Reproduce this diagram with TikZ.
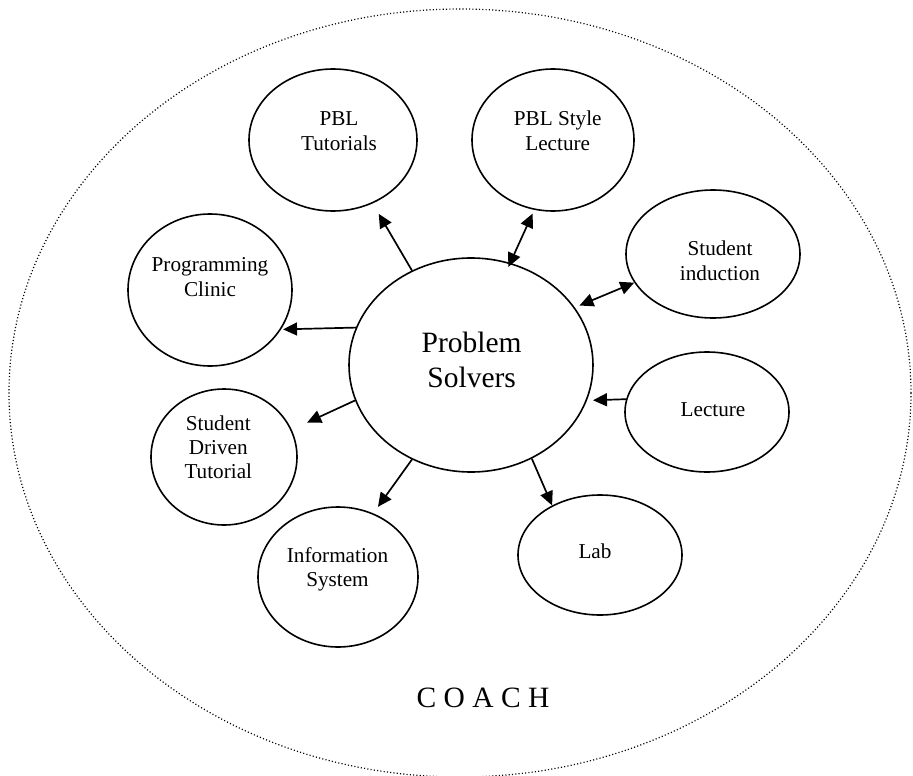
\documentclass[tikz,border=0pt]{standalone}
\usepackage{fontspec}
\setmainfont{Liberation Serif}
\usetikzlibrary{arrows.meta,shapes.geometric}
\begin{document}
\begin{tikzpicture}[x=1pt,y=-1pt,
  bubble/.style={ellipse, draw, line width=1.6pt, inner sep=0pt},
  txt/.style={align=center, font=\fontsize{21.2}{24.3}\selectfont, inner sep=0pt},
  bigtxt/.style={align=center, font=\fontsize{29.5}{34.7}\selectfont, inner sep=0pt},
  tip/.tip={Triangle[length=14pt,width=13pt]},
  link/.style={line width=1.7pt, -tip},
  dlink/.style={line width=1.7pt, tip-tip},
  halo/.style={ellipse, draw=black, line width=1.2pt, dash pattern=on 1.1pt off 2.2pt, inner sep=0pt}]
\useasboundingbox (0,0) rectangle (913,776);

% outer coaching boundary
\node[halo, minimum width=902pt, minimum height=768pt] (coach) at (460,393) {};
\node[bigtxt, anchor=base] (coach-t) at (483,707.3) {C O A C H};

% centre
\node[bubble, minimum width=244pt, minimum height=214pt] (ps) at (471,365) {};
\node[bigtxt] (ps-t) at (471.7,363) {\strut Problem\\\strut Solvers};

% surrounding activities
\node[bubble, minimum width=168pt, minimum height=142pt] (pbt) at (333,140) {};
\node[txt] (pbt-t) at (339,133.1) {\strut PBL\\\strut Tutorials};

\node[bubble, minimum width=162pt, minimum height=142pt] (pbs) at (553,140) {};
\node[txt] (pbs-t) at (557.7,133.1) {\strut PBL Style\\\strut Lecture};

\node[bubble, minimum width=174pt, minimum height=128pt] (sin) at (713,254) {};
\node[txt] (sin-t) at (720,263.1) {\strut Student\\\strut induction};

\node[bubble, minimum width=164pt, minimum height=152pt] (pc) at (210,290) {};
\node[txt] (pc-t) at (210,279) {\strut Programming\\\strut Clinic};

\node[bubble, minimum width=164pt, minimum height=120pt] (lec) at (707,412) {};
\node[txt, anchor=base] (lec-t) at (713,416.7) {Lecture};

\node[bubble, minimum width=146pt, minimum height=136pt] (sdt) at (224,457) {};
\node[txt] (sdt-t) at (218.3,449.6) {\strut Student\\\strut Driven\\\strut Tutorial};

\node[bubble, minimum width=160pt, minimum height=140pt] (is) at (338,577) {};
\node[txt] (is-t) at (337.5,569.8) {\strut Information\\\strut System};

\node[bubble, minimum width=164pt, minimum height=120pt] (lab) at (600,555) {};
\node[txt, anchor=base] (lab-t) at (595,558.3) {Lab};

% connectors
\draw[link, shorten >=12pt] (ps.122) -- (pbt.302);
\draw[dlink, shorten <=-4.5pt, shorten >=4pt] (ps.69) -- (pbs.255);
\draw[dlink, shorten <=5pt] (ps.29) -- (sin.200);
\draw[link, shorten >=6pt] (lec.171.5) -- (ps.343.1);
\draw[link, shorten >=2pt] (ps.162.6) -- (pc.331);
\draw[link, shorten >=17pt] (ps.197) -- (sdt.22);
\draw[link, shorten >=8pt] (ps.238) -- (is.61);
\draw[link] (ps.303) -- (lab.134);
\end{tikzpicture}
\end{document}
